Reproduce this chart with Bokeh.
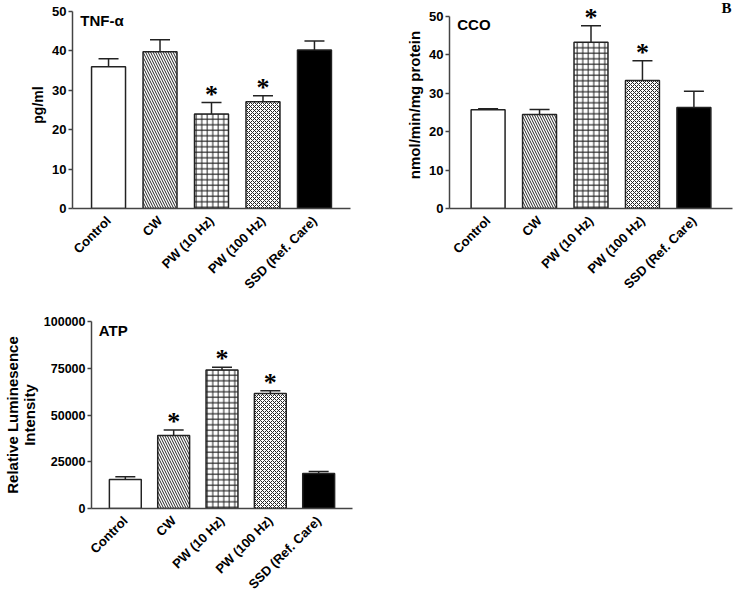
import math
from bokeh.plotting import figure
from bokeh.models import (FactorRange, Range1d, FixedTicker, Whisker, ColumnDataSource,
                          Label, LabelSet, TeeHead, BasicTickFormatter)
from bokeh.layouts import column, row
from bokeh.embed import file_html
from bokeh.resources import INLINE

# ---------------- data ----------------
categories = ["Control", "CW", "PW (10 Hz)", "PW (100 Hz)", "SSD (Ref. Care)"]

tnf_mean = [36.0, 39.8, 24.0, 27.1, 40.2]
tnf_upper = [38.0, 42.8, 26.9, 28.6, 42.5]
tnf_sig = [False, False, True, True, False]
tnf_ticks = [0, 10, 20, 30, 40, 50]

cco_mean = [25.7, 24.5, 43.3, 33.3, 26.3]
cco_upper = [26.0, 25.8, 47.6, 38.5, 30.5]
cco_sig = [False, False, True, True, False]
cco_ticks = [0, 10, 20, 30, 40, 50]

atp_mean = [15500, 39000, 74000, 61500, 18700]
atp_upper = [17000, 42000, 75500, 63000, 19800]
atp_sig = [False, True, True, True, False]
atp_ticks = [0, 25000, 50000, 75000, 100000]

# styles per category
fill_colors = ["white", "white", "white", "white", "black"]
hatch_patterns = [" ", "\\", "+", "x", " "]
hatch_scales = [6, 5, 5.5, 4, 6]

FONT = "Liberation Sans"
DARK = "#222222"
AXIS = "#444444"


def panel(mean, upper, sig, ticks, ylabel, title, width, height,
          bl, br, bt, bb, pad, ylabel_size="14px", headroom=0.0):
    # headroom: extra space above the last tick (as a fraction of the axis span),
    # so that marks above the axis top are not clipped; the axis line stops at the last tick
    span = ticks[-1] - ticks[0]
    p = figure(x_range=FactorRange(*categories, range_padding=pad,
                                   range_padding_units="absolute"),
               y_range=Range1d(ticks[0], ticks[-1] + headroom * span), title=None,
               width=width, height=height, output_backend="svg",
               toolbar_location=None)
    p.min_border_left = bl
    p.min_border_right = br
    p.min_border_top = bt
    p.min_border_bottom = bb
    p.outline_line_color = None
    p.xgrid.visible = False
    p.ygrid.visible = False
    p.background_fill_color = "white"
    p.border_fill_color = "white"

    src = ColumnDataSource(dict(cat=categories, mean=mean, upper=upper,
                                fill=fill_colors, hatch=hatch_patterns,
                                hscale=hatch_scales))
    p.vbar(x="cat", top="mean", width=0.66, source=src, fill_color="fill",
           line_color=DARK, line_width=1.5, hatch_pattern="hatch",
           hatch_scale="hscale", hatch_color=DARK, hatch_weight=1)

    w = Whisker(base="cat", lower="mean", upper="upper", source=src,
                line_color=DARK, line_width=1.5, lower_head=None,
                upper_head=TeeHead(size=20, line_color=DARK, line_width=1.5))
    p.add_layout(w)

    star_src = ColumnDataSource(dict(
        x=[c for c, s in zip(categories, sig) if s],
        y=[u for u, s in zip(upper, sig) if s],
        t=["*" for s in sig if s]))
    p.add_layout(LabelSet(x="x", y="y", text="t", source=star_src,
                          text_font=FONT, text_font_style="bold",
                          text_font_size="26px", text_align="center",
                          text_baseline="alphabetic", y_offset=0,
                          text_color="black"))

    p.add_layout(Label(x=-pad + 0.15, y=ticks[-1], text=title, text_font=FONT,
                       text_font_style="bold", text_font_size="15px",
                       text_baseline="top", text_align="left",
                       text_color="black"))

    # axes
    xa = p.xaxis[0]
    xa.major_tick_line_color = None
    xa.minor_tick_line_color = None
    xa.axis_line_color = AXIS
    xa.axis_line_width = 1.5
    xa.major_label_orientation = math.pi / 4
    xa.major_label_text_font = FONT
    xa.major_label_text_font_style = "bold"
    xa.major_label_text_font_size = "13px"
    xa.major_label_text_color = "black"
    xa.major_label_standoff = 4

    ya = p.yaxis[0]
    ya.ticker = FixedTicker(ticks=ticks)
    ya.bounds = (ticks[0], ticks[-1])
    ya.formatter = BasicTickFormatter(use_scientific=False)
    ya.minor_tick_line_color = None
    ya.major_tick_out = 4
    ya.major_tick_in = 0
    ya.major_tick_line_color = AXIS
    ya.major_tick_line_width = 1.5
    ya.axis_line_color = AXIS
    ya.axis_line_width = 1.5
    ya.major_label_text_font = FONT
    ya.major_label_text_font_style = "bold"
    ya.major_label_text_font_size = "13px"
    ya.major_label_text_color = "black"
    ya.major_label_standoff = 2
    ya.axis_label = ylabel
    ya.axis_label_standoff = 3
    ya.axis_label_text_font = FONT
    ya.axis_label_text_font_style = "bold"
    ya.axis_label_text_font_size = ylabel_size
    ya.axis_label_text_color = "black"
    ya.axis_label_text_line_height = 1.0
    return p


p1 = panel(tnf_mean, tnf_upper, tnf_sig, tnf_ticks, "pg/ml", "TNF-\u03b1",
           370, 300, 72, 20, 1, 92, 0.2, headroom=0.0508)
p2 = panel(cco_mean, cco_upper, cco_sig, cco_ticks, "nmol/min/mg protein", "CCO",
           363, 300, 79, 1, 1, 92, 0.25, ylabel_size="15px", headroom=0.078)
p2.add_layout(Label(x=5.25, y=52.1, x_offset=-1, text="B",
                    text_font="Liberation Serif", text_font_style="bold",
                    text_font_size="15px", text_align="right",
                    text_baseline="middle", text_color="black"))
p3 = panel(atp_mean, atp_upper, atp_sig, atp_ticks, "Relative Luminesence\nIntensity",
           "ATP", 370, 300, 82, 18, 21, 83, 0.2, ylabel_size="15px")
p3.yaxis[0].major_label_text_font_size = "12.5px"

layout = column(row(p1, p2), p3)
open("out.html", "w").write(file_html(layout, INLINE))
